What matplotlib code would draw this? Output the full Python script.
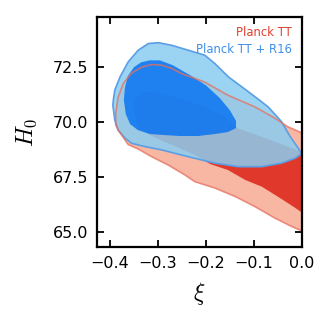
import matplotlib
matplotlib.use("Agg")
import matplotlib.pyplot as plt

plt.rcParams["font.family"] = ["DejaVu Sans"]
plt.rcParams["mathtext.fontset"] = "cm"

# Planck TT, 95% contour (xi, H0)
tt95_xi = [-0.388, -0.388, -0.383, -0.372, -0.355, -0.334, -0.313, -0.292, -0.271,
           -0.251, -0.223, -0.202, -0.154, -0.0975, -0.056, -0.029, 0.0006, 0.01,
           0.01, -0.021, -0.056, -0.0975, -0.139, -0.181, -0.223, -0.244, -0.279,
           -0.313, -0.341, -0.362, -0.383]
tt95_h0 = [69.87, 70.41, 71.13, 71.76, 72.22, 72.49, 72.61, 72.58, 72.43,
           72.20, 71.98, 71.81, 71.22, 70.69, 70.18, 69.79, 69.51, 69.45,
           64.98, 65.27, 65.65, 66.17, 66.63, 67.01, 67.30, 67.61, 68.06,
           68.43, 68.78, 68.98, 69.64]

# Planck TT, 68% contour
tt68_xi = [-0.350, -0.348, -0.338, -0.317, -0.275, -0.244, -0.202, -0.160, -0.135,
           -0.081, 0.0, 0.01, 0.01, -0.014, -0.049, -0.083, -0.118, -0.154,
           -0.191, -0.223, -0.265, -0.296, -0.321, -0.338, -0.346]
tt68_h0 = [70.63, 71.00, 71.31, 71.37, 71.22, 71.00, 70.69, 70.24, 69.73,
           69.32, 68.65, 68.60, 65.75, 66.12, 66.61, 67.07, 67.38, 67.83,
           68.10, 68.51, 68.92, 69.19, 69.46, 69.73, 70.18]

# Planck TT + R16, 95% contour
r16_95_xi = [-0.394, -0.393, -0.390, -0.379, -0.362, -0.341, -0.320, -0.299, -0.271,
             -0.237, -0.202, -0.181, -0.153, -0.125, -0.0975, -0.070, -0.042, -0.024,
             -0.007, 0.0, -0.014, -0.042, -0.0835, -0.132, -0.181, -0.223, -0.251,
             -0.292, -0.327, -0.355, -0.369, -0.383, -0.390]
r16_95_h0 = [70.77, 71.00, 71.45, 72.05, 72.73, 73.26, 73.56, 73.60, 73.48,
             73.26, 73.03, 72.65, 72.05, 71.60, 71.15, 70.69, 70.02, 69.34,
             68.81, 68.56, 68.36, 68.14, 67.98, 67.98, 68.14, 68.36, 68.51,
             68.74, 68.89, 69.04, 69.28, 69.64, 70.09]

# Planck TT + R16, 68% contour
r16_68_xi = [-0.371, -0.369, -0.363, -0.350, -0.335, -0.317, -0.296, -0.269, -0.233,
             -0.200, -0.171, -0.150, -0.137, -0.137, -0.154, -0.181, -0.216, -0.254,
             -0.285, -0.317, -0.342, -0.358, -0.367]
r16_68_h0 = [71.00, 71.54, 72.08, 72.49, 72.71, 72.80, 72.80, 72.58, 72.13,
             71.67, 71.09, 70.54, 70.05, 69.73, 69.55, 69.46, 69.37, 69.37,
             69.41, 69.46, 69.64, 69.91, 70.36]

labels = ["Planck TT", "Planck TT + R16"]
x_ticks = [-0.4, -0.3, -0.2, -0.1, 0.0]
y_ticks = [65.0, 67.5, 70.0, 72.5]

fig = plt.figure(figsize=(3.33, 3.33), dpi=100)
ax = fig.add_axes([0.290, 0.257, 0.616, 0.693])

# Planck TT (red)
ax.fill(tt95_xi, tt95_h0, color="#f7b7a3", lw=0, zorder=1)
ax.fill(tt68_xi, tt68_h0, color="#e0392b", lw=0, zorder=2)

# Planck TT + R16 (blue, slightly transparent)
ax.fill(r16_95_xi, r16_95_h0, facecolor="#8acdf1", edgecolor="none",
        alpha=0.85, zorder=3)
ax.fill(r16_68_xi, r16_68_h0, facecolor="#006ef2", edgecolor="none",
        alpha=0.8, zorder=4)
ax.fill(r16_95_xi, r16_95_h0, facecolor="none", edgecolor="#5a9fe6",
        lw=1.2, zorder=5)

# red 95% edge stays visible through the blue
ax.fill(tt95_xi, tt95_h0, facecolor="none", edgecolor="#e5705f", lw=1.2,
        alpha=0.75, zorder=6)

ax.set_xlim(-0.428, 0.0)
ax.set_ylim(64.32, 74.78)
ax.set_xticks(x_ticks)
ax.set_yticks(y_ticks)
ax.set_xticklabels(["\u22120.4", "\u22120.3", "\u22120.2", "\u22120.1", "0.0"])
ax.set_yticklabels(["65.0", "67.5", "70.0", "72.5"])
ax.tick_params(direction="in", top=True, right=True, length=5, width=1.3,
               labelsize=11.5, pad=6)
for sp in ax.spines.values():
    sp.set_linewidth(1.6)
    sp.set_zorder(10)

ax.set_xlabel(r"$\xi$", fontsize=17, labelpad=7)
ax.set_ylabel(r"$H_0$", fontsize=17, labelpad=10)

ax.text(0.953, 0.916, labels[0], transform=ax.transAxes, ha="right", va="baseline",
        color="#e0402e", fontsize=8.4, zorder=11)
ax.text(0.953, 0.843, labels[1], transform=ax.transAxes, ha="right", va="baseline",
        color="#3d8fe6", fontsize=8.4, zorder=11)

fig.savefig("out.png", dpi=100)
